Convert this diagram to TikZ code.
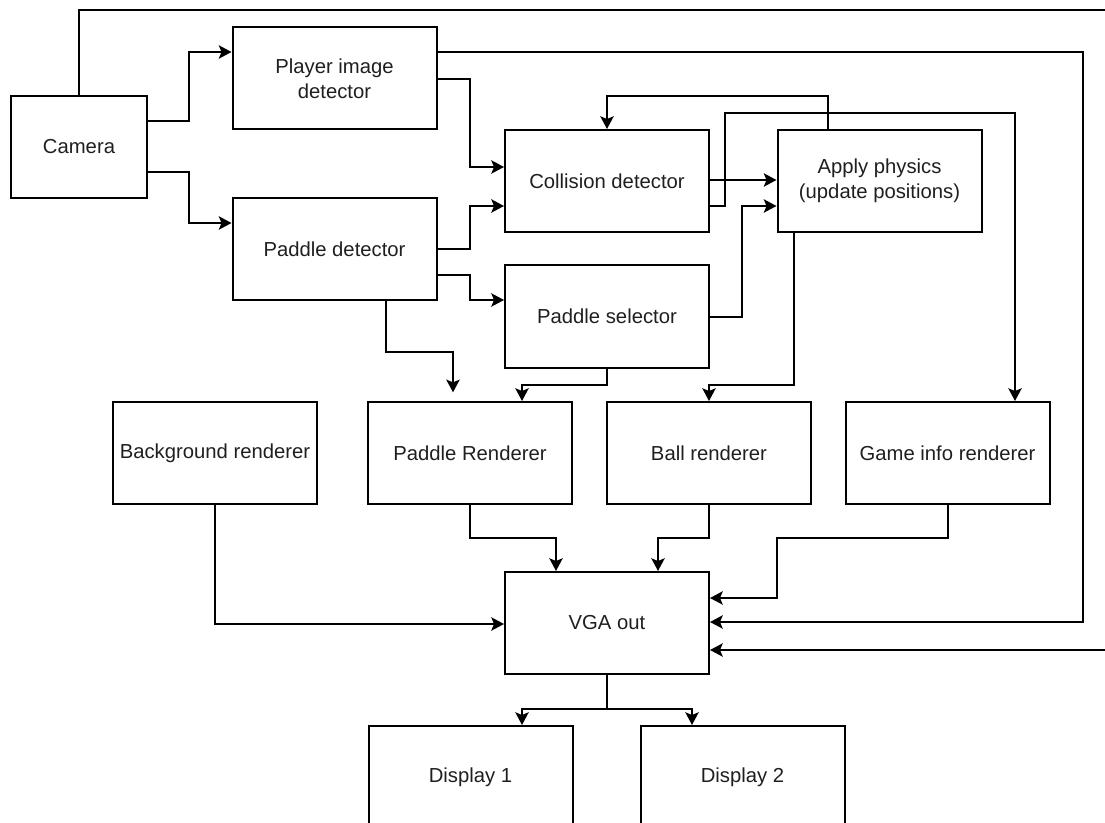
\documentclass[tikz,border=0pt]{standalone}
\usepackage{fontspec}
\setmainfont{Liberation Sans}
\usetikzlibrary{arrows.meta}
\begin{document}
\begin{tikzpicture}[x=0.75pt,y=-0.75pt,
  box/.style={draw=black, line width=1.5pt, minimum width=153pt, minimum height=76.5pt,
    inner sep=0pt, align=center, font=\fontsize{15.2}{18.5}\selectfont, text=black!88},
  line/.style={draw=black, line width=1.5pt},
  arr/.style={line, -{Stealth[length=9.5pt,width=10pt,inset=2pt]}}]
\useasboundingbox (0,0) rectangle (1105,823);
% nodes
\node[box, minimum width=102pt] (cam) at (79,147) {Camera};
\node[box] (pid) at (334.5,78.5) {Player image\\detector};
\node[box] (pd) at (334.5,249) {Paddle detector};
\node[box] (coll) at (607,181) {Collision detector};
\node[box] (psel) at (607,316.5) {Paddle selector};
\node[box] (apply) at (879.5,181) {Apply physics\\(update positions)};
\node[box] (bg) at (215,453) {Background renderer};
\node[box] (pr) at (470,453) {Paddle Renderer};
\node[box] (br) at (709,453) {Ball renderer};
\node[box] (gi) at (947.5,453) {Game info renderer};
\node[box] (vga) at (607,623) {VGA out};
\node[box] (d1) at (470.5,777) {Display 1};
\node[box] (d2) at (742.5,777) {Display 2};
\coordinate (camfar) at (1112,10);
% connectors
\draw[arr] (cam.north) |- (camfar) -- (1112,650) -- (vga.east |- 0,650);
\draw[arr] (cam.east |- 0,121) -- (189,121) |- (pid.west |- 0,52);
\draw[arr] (cam.east |- 0,172) -- (189,172) |- (pd.west |- 0,223);
\draw[arr] (pid.east |- 0,52) -| (1083,622) -- (vga.east |- 0,622);
\draw[arr] (pid.east |- 0,79) -| (470,167) -- (coll.west |- 0,167);
\draw[arr] (pd.east |- 0,249) -| (470,206) -- (coll.west |- 0,206);
\draw[arr] (pd.east |- 0,275) -| (470,300) -- (psel.west |- 0,300);
\draw[arr, shorten >=6.5pt] (pd.south -| 386,0) |- (453,352) -- (pr.north -| 453,0);
\draw[arr] (psel.south) |- (522,385) -- (pr.north -| 522,0);
\draw[arr] (psel.east |- 0,317) -| (742,206) -- (apply.west |- 0,206);
\draw[arr] (coll.east |- 0,180) -- (apply.west |- 0,180);
\draw[arr] (coll.east |- 0,206) -| (725,113) -| (gi.north -| 1015,0);
\draw[arr] (apply.north -| 828,0) |- (607,96) -- (coll.north);
\draw[arr] (apply.south -| 794,0) |- (709,385) -- (br.north);
\draw[arr] (pr.south) |- (556,538) -- (vga.north -| 556,0);
\draw[arr] (br.south) |- (658,538) -- (vga.north -| 658,0);
\draw[arr] (gi.south) |- (777,538) |- (vga.east |- 0,598);
\draw[arr] (bg.south) |- (vga.west |- 0,624);
\draw[arr] (vga.south) |- (522,709) -- (d1.north -| 522,0);
\draw[arr] (vga.south) |- (692,709) -- (d2.north -| 692,0);
\end{tikzpicture}
\end{document}
